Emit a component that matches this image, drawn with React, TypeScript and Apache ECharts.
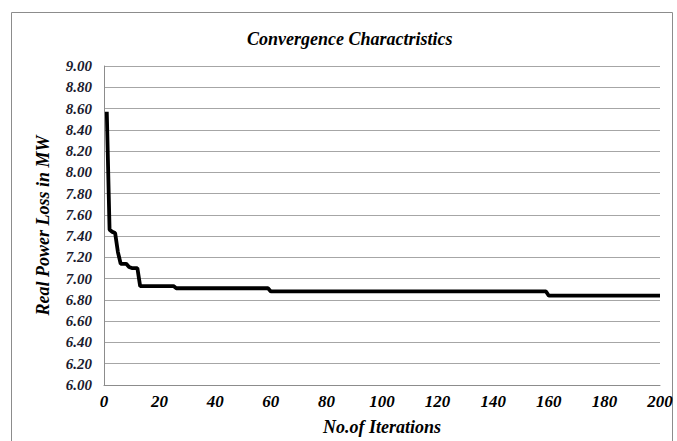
import React, { useEffect, useRef } from "react";
import * as echarts from "echarts";

const iterations = [1, 2, 3, 4, 5, 6, 8, 9, 10, 12, 13, 25, 26, 59, 60, 159, 160, 200];
const powerLoss = [8.57, 7.46, 7.44, 7.43, 7.25, 7.14, 7.14, 7.11, 7.1, 7.1, 6.93, 6.93, 6.91, 6.91, 6.88, 6.88, 6.84, 6.84];

const titleText = "Convergence Charactristics";
const xName = "No.of Iterations";
const yName = "Real Power Loss in MW";

const FONT = '"Liberation Serif", "Times New Roman", serif';

export default function App() {
  const ref = useRef<HTMLDivElement>(null);
  useEffect(() => {
    document.body.style.margin = "0";
    const chart = echarts.init(ref.current!, null, { renderer: "svg" });
    const data = iterations.map((it, i) => [it, powerLoss[i]]);
    chart.setOption({
      animation: false,
      backgroundColor: "#ffffff",
      textStyle: { fontFamily: FONT },
      title: {
        text: titleText,
        left: 242,
        top: 25,
        textStyle: {
          fontFamily: FONT,
          fontStyle: "italic",
          fontWeight: "bold",
          fontSize: 18,
          color: "#000",
        },
      },
      graphic: [
        {
          type: "rect",
          shape: { x: 11.5, y: 12.5, width: 661, height: 460 },
          style: { fill: "none", stroke: "#8c8c8c", lineWidth: 1 },
          silent: true,
        },
      ],
      grid: { left: 104, right: 17, top: 66, bottom: 50 },
      xAxis: {
        type: "value",
        min: 0,
        max: 200,
        interval: 20,
        name: xName,
        nameLocation: "middle",
        nameGap: 33,
        nameTextStyle: {
          fontFamily: FONT,
          fontStyle: "italic",
          fontWeight: "bold",
          fontSize: 18,
          color: "#000",
        },
        axisLine: { show: true, lineStyle: { color: "#8c8c8c", width: 1 } },
        axisTick: { show: false },
        splitLine: { show: false },
        axisLabel: {
          margin: 8,
          fontFamily: FONT,
          fontStyle: "italic",
          fontWeight: "bold",
          fontSize: 17,
          color: "#000",
        },
      },
      yAxis: {
        type: "value",
        min: 6,
        max: 9,
        interval: 0.2,
        name: yName,
        nameLocation: "middle",
        nameGap: 52,
        nameRotate: 90,
        nameTextStyle: {
          fontFamily: FONT,
          fontStyle: "italic",
          fontWeight: "bold",
          fontSize: 18,
          color: "#000",
        },
        axisLine: { show: true, lineStyle: { color: "#8c8c8c", width: 1 } },
        axisTick: { show: false },
        splitLine: { show: true, lineStyle: { color: "#a6a6a6", width: 1 } },
        axisLabel: {
          margin: 12,
          formatter: (v: number) => v.toFixed(2),
          fontFamily: FONT,
          fontStyle: "italic",
          fontWeight: "bold",
          fontSize: 15,
          color: "#1a1a2e",
        },
      },
      series: [
        {
          type: "line",
          data,
          showSymbol: false,
          symbol: "none",
          lineStyle: { color: "#000", width: 3.8 },
          itemStyle: { color: "#000" },
        },
      ],
    });
    return () => chart.dispose();
  }, []);
  return (
    <div
      ref={ref}
      style={{ position: "fixed", left: 0, top: 0, width: 677, height: 441 }}
    />
  );
}
